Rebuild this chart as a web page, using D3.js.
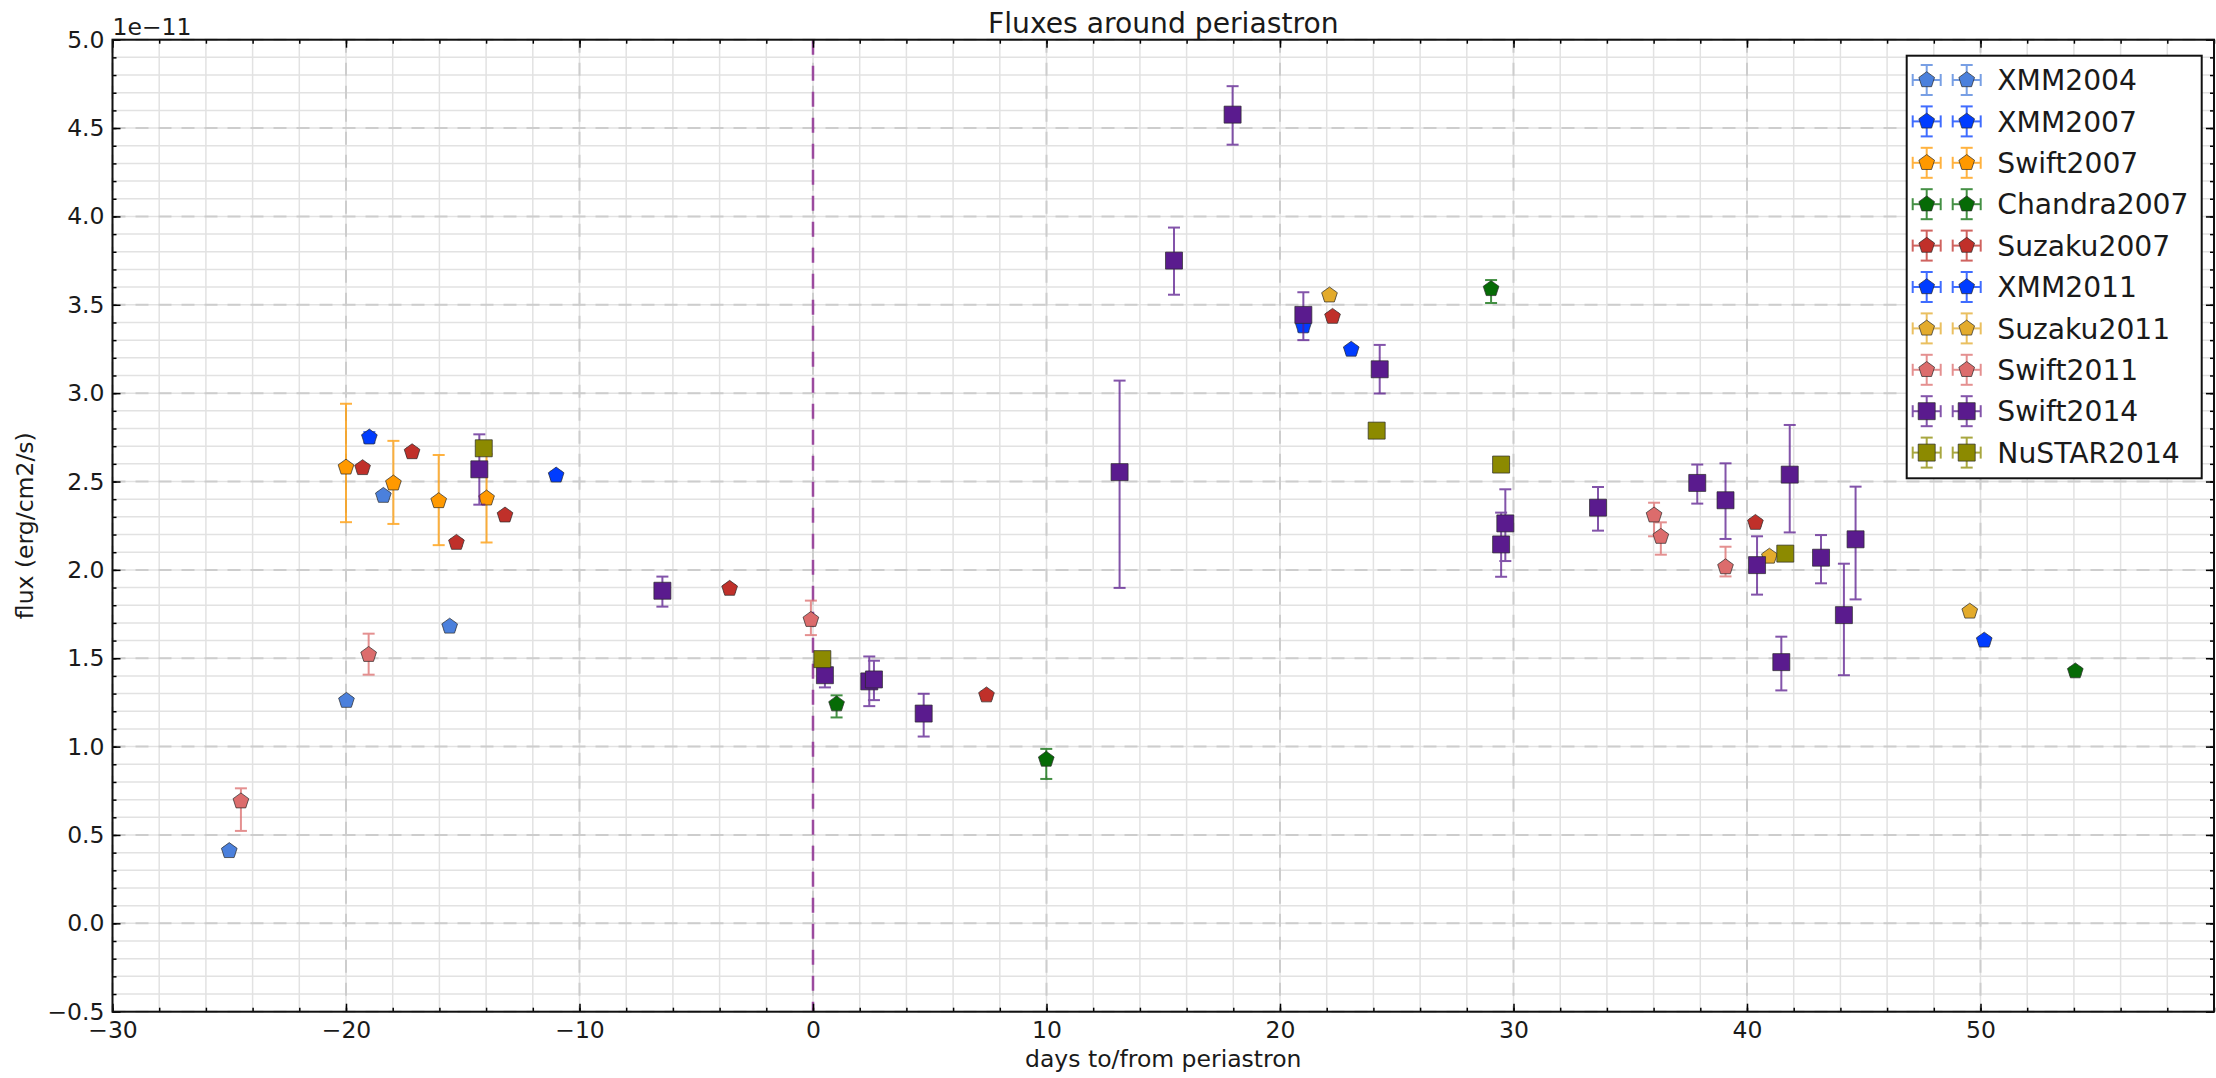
<!DOCTYPE html>
<html>
<head>
<meta charset="utf-8">
<title>Fluxes around periastron</title>
<script src="https://cdn.jsdelivr.net/npm/d3@7"></script>
<style>
  html, body { margin: 0; padding: 0; background: #fff; }
  svg { display: block; font-family: "DejaVu Sans", sans-serif; }
</style>
</head>
<body>
<svg id="chart" width="2216" height="1078"></svg>
<script>
// Each point: [days to/from periastron, flux in 1e-11 erg/cm2/s, lower error, upper error]
const XMM2004 = [[-25.0, 0.41, 0.02, 0.02], [-19.98, 1.26, 0.02, 0.02], [-18.4, 2.42, 0.02, 0.02], [-15.56, 1.68, 0.02, 0.02]];
const XMM2007 = [[-19.0, 2.75, 0.03, 0.03]];
const Swift2007 = [[-20.0, 2.58, 0.31, 0.36], [-17.97, 2.49, 0.23, 0.24], [-16.03, 2.39, 0.25, 0.26], [-13.98, 2.405, 0.25, 0.25]];
const Chandra2007 = [[1.01, 1.24, 0.075, 0.05], [9.99, 0.927, 0.11, 0.06], [29.04, 3.59, 0.08, 0.05], [54.06, 1.427, 0.02, 0.02]];
const Suzaku2007 = [[-19.29, 2.577, 0.02, 0.02], [-17.17, 2.667, 0.02, 0.02], [-15.27, 2.154, 0.02, 0.02], [-13.19, 2.309, 0.02, 0.02],
                    [-3.57, 1.894, 0.02, 0.02], [7.43, 1.291, 0.02, 0.02], [22.25, 3.433, 0.02, 0.02], [40.36, 2.267, 0.02, 0.02]];
const XMM2011 = [[-11.0, 2.535, 0.02, 0.02], [21.0, 3.379, 0.03, 0.03], [23.05, 3.247, 0.02, 0.02], [50.16, 1.601, 0.02, 0.02]];
const Suzaku2011 = [[22.12, 3.554, 0.02, 0.02], [40.96, 2.076, 0.02, 0.02], [49.54, 1.765, 0.02, 0.02]];
const Swift2011 = [[-24.5, 0.691, 0.168, 0.073], [-19.03, 1.52, 0.113, 0.119], [-0.09, 1.718, 0.087, 0.108],
                   [36.02, 2.309, 0.119, 0.071], [36.31, 2.188, 0.102, 0.081], [39.08, 2.016, 0.053, 0.115]];
const Swift2014 = [[-14.29, 2.569, 0.2, 0.198], [-6.45, 1.882, 0.09, 0.08], [0.51, 1.404, 0.069, 0.07], [2.41, 1.369, 0.14, 0.141],
                   [2.61, 1.38, 0.117, 0.106], [4.74, 1.187, 0.13, 0.112], [13.13, 2.553, 0.655, 0.518], [15.46, 3.75, 0.193, 0.187],
                   [17.97, 4.576, 0.17, 0.161], [21.0, 3.443, 0.143, 0.128], [24.27, 3.135, 0.137, 0.138], [29.47, 2.144, 0.183, 0.18],
                   [29.65, 2.263, 0.213, 0.193], [33.62, 2.352, 0.13, 0.117], [37.87, 2.492, 0.117, 0.104], [39.08, 2.394, 0.219, 0.209],
                   [40.43, 2.027, 0.167, 0.163], [41.47, 1.478, 0.16, 0.144], [41.83, 2.539, 0.327, 0.281], [43.17, 2.069, 0.145, 0.128],
                   [44.15, 1.744, 0.34, 0.291], [44.65, 2.173, 0.34, 0.298]];
const NuSTAR2014 = [[-14.10, 2.688, 0.02, 0.02], [0.40, 1.495, 0.02, 0.02], [24.14, 2.788, 0.02, 0.02], [29.47, 2.596, 0.02, 0.02], [41.64, 2.092, 0.02, 0.02]];

const seriesNames = ["XMM2004", "XMM2007", "Swift2007", "Chandra2007", "Suzaku2007", "XMM2011", "Suzaku2011", "Swift2011", "Swift2014", "NuSTAR2014"];
const seriesData = [XMM2004, XMM2007, Swift2007, Chandra2007, Suzaku2007, XMM2011, Suzaku2011, Swift2011, Swift2014, NuSTAR2014];

const xTickValues = [-30, -20, -10, 0, 10, 20, 30, 40, 50];
const yTickValues = [-0.5, 0.0, 0.5, 1.0, 1.5, 2.0, 2.5, 3.0, 3.5, 4.0, 4.5, 5.0];
const offsetLabel = "1e\u221211";
const periastronDay = 0;

// ---- styling ----
const colors = ["#4b80dc", "#003cff", "#ff9900", "#066b06", "#c0302a", "#003cff", "#e3ab2c", "#dc6c6c", "#5a1b8e", "#8c8a00"];
const shapes = ["p", "p", "p", "p", "p", "p", "p", "p", "s", "s"];

const W = 2216, H = 1078;
const plot = { left: 112.5, right: 2214, top: 39.7, bottom: 1011.7 };
const baseFont = 23.5, largeFont = 28.2;

const svg = d3.select("#chart");

const x = d3.scaleLinear().domain([-30, 60]).range([plot.left, plot.right]);
const y = d3.scaleLinear().domain([-0.5, 5.0]).range([plot.bottom, plot.top]);

const xMinor = d3.range(-15, 31).map(i => i * 2);
const yMinor = d3.range(-5, 51).map(i => i / 10);

// pentagon marker, vertex up
const symbolPentagon = {
  draw(ctx, size) {
    const r = Math.sqrt(size / 2.3776);
    for (let i = 0; i < 5; i++) {
      const a = -Math.PI / 2 + i * 2 * Math.PI / 5;
      const px = r * Math.cos(a), py = r * Math.sin(a);
      if (i === 0) ctx.moveTo(px, py); else ctx.lineTo(px, py);
    }
    ctx.closePath();
  }
};
const markerPath = shape => shape === "s"
  ? d3.symbol().type(d3.symbolSquare).size(289)()
  : d3.symbol().type(symbolPentagon).size(162)();

// ---- grid ----
const grid = svg.append("g");
grid.selectAll(".hminor").data(yMinor).join("line")
  .attr("x1", plot.left).attr("x2", plot.right)
  .attr("y1", d => y(d)).attr("y2", d => y(d))
  .attr("stroke", "#e2e2e2").attr("stroke-width", 1.5);
grid.selectAll(".vminor").data(xMinor).join("line")
  .attr("y1", plot.top).attr("y2", plot.bottom)
  .attr("x1", d => x(d)).attr("x2", d => x(d))
  .attr("stroke", "#e2e2e2").attr("stroke-width", 1.5);
grid.selectAll(".hmajor").data(yTickValues).join("line")
  .attr("x1", plot.left).attr("x2", plot.right)
  .attr("y1", d => y(d)).attr("y2", d => y(d))
  .attr("stroke", "#cdcdcd").attr("stroke-width", 2).attr("stroke-dasharray", "13,10");
grid.selectAll(".vmajor").data(xTickValues).join("line")
  .attr("y1", plot.top).attr("y2", plot.bottom)
  .attr("x1", d => x(d)).attr("x2", d => x(d))
  .attr("stroke", "#cdcdcd").attr("stroke-width", 2).attr("stroke-dasharray", "13,10");

// periastron marker
svg.append("line")
  .attr("x1", x(periastronDay)).attr("x2", x(periastronDay))
  .attr("y1", plot.top).attr("y2", plot.bottom)
  .attr("stroke", "#9b4a9e").attr("stroke-width", 2.5).attr("stroke-dasharray", "15,11");

// ---- data ----
const capHalf = 6;
seriesData.forEach((data, si) => {
  const g = svg.append("g");
  const col = colors[si];
  const eb = g.append("g").attr("stroke", col).attr("stroke-width", 2).attr("opacity", 0.75);
  data.forEach(([dx, fy, lo, hi]) => {
    const cx = x(dx), yl = y(fy - lo), yh = y(fy + hi);
    eb.append("line").attr("x1", cx).attr("x2", cx).attr("y1", yl).attr("y2", yh);
    eb.append("line").attr("x1", cx - capHalf).attr("x2", cx + capHalf).attr("y1", yl).attr("y2", yl);
    eb.append("line").attr("x1", cx - capHalf).attr("x2", cx + capHalf).attr("y1", yh).attr("y2", yh);
  });
  g.selectAll("path.mark").data(data).join("path")
    .attr("class", "mark")
    .attr("d", markerPath(shapes[si]))
    .attr("transform", d => `translate(${x(d[0])},${y(d[1])})`)
    .attr("fill", col)
    .attr("stroke", "#2a2a2a").attr("stroke-opacity", 0.7).attr("stroke-width", 1);
});

// ---- axes (inward ticks on all four sides) ----
const fmtX = d3.format("d");
const fmtY = d3.format(".1f");
function styleAxis(g) {
  g.select(".domain").remove();
  g.selectAll("line").attr("stroke", "#000").attr("stroke-width", 1.5);
  g.selectAll("text").attr("font-size", baseFont).attr("fill", "#1a1a1a").attr("font-family", "DejaVu Sans, sans-serif");
}
svg.append("g").attr("transform", `translate(0,${plot.bottom})`)
  .call(d3.axisBottom(x).tickValues(xTickValues).tickSize(-8).tickPadding(10).tickFormat(fmtX)).call(styleAxis);
svg.append("g").attr("transform", `translate(0,${plot.bottom})`)
  .call(d3.axisBottom(x).tickValues(xMinor).tickSize(-4).tickFormat("")).call(styleAxis);
svg.append("g").attr("transform", `translate(0,${plot.top})`)
  .call(d3.axisTop(x).tickValues(xTickValues).tickSize(-8).tickFormat("")).call(styleAxis);
svg.append("g").attr("transform", `translate(0,${plot.top})`)
  .call(d3.axisTop(x).tickValues(xMinor).tickSize(-4).tickFormat("")).call(styleAxis);
svg.append("g").attr("transform", `translate(${plot.left},0)`)
  .call(d3.axisLeft(y).tickValues(yTickValues).tickSize(-8).tickPadding(8).tickFormat(fmtY)).call(styleAxis);
svg.append("g").attr("transform", `translate(${plot.left},0)`)
  .call(d3.axisLeft(y).tickValues(yMinor).tickSize(-4).tickFormat("")).call(styleAxis);
svg.append("g").attr("transform", `translate(${plot.right},0)`)
  .call(d3.axisRight(y).tickValues(yTickValues).tickSize(-8).tickFormat("")).call(styleAxis);
svg.append("g").attr("transform", `translate(${plot.right},0)`)
  .call(d3.axisRight(y).tickValues(yMinor).tickSize(-4).tickFormat("")).call(styleAxis);

// frame
svg.append("rect")
  .attr("x", plot.left).attr("y", plot.top)
  .attr("width", plot.right - plot.left).attr("height", plot.bottom - plot.top)
  .attr("fill", "none").attr("stroke", "#111").attr("stroke-width", 2);

// ---- text ----
svg.append("text").attr("x", (plot.left + plot.right) / 2).attr("y", 33)
  .attr("text-anchor", "middle").attr("font-size", largeFont).attr("fill", "#1a1a1a")
  .text("Fluxes around periastron");
svg.append("text").attr("x", (plot.left + plot.right) / 2).attr("y", 1067)
  .attr("text-anchor", "middle").attr("font-size", baseFont).attr("fill", "#1a1a1a")
  .text("days to/from periastron");
svg.append("text").attr("transform", `translate(33,${(plot.top + plot.bottom) / 2}) rotate(-90)`)
  .attr("text-anchor", "middle").attr("font-size", baseFont).attr("fill", "#1a1a1a")
  .text("flux (erg/cm2/s)");
svg.append("text").attr("x", plot.left).attr("y", 35)
  .attr("font-size", baseFont).attr("fill", "#1a1a1a")
  .text(offsetLabel);

// ---- legend ----
const legend = { left: 1906.7, top: 55.7, right: 2201.7, bottom: 478.3, firstRow: 80, rowStep: 41.4 };
const lg = svg.append("g");
lg.append("rect").attr("x", legend.left).attr("y", legend.top)
  .attr("width", legend.right - legend.left).attr("height", legend.bottom - legend.top)
  .attr("fill", "#fff").attr("stroke", "#111").attr("stroke-width", 2);
seriesNames.forEach((name, i) => {
  const cy = legend.firstRow + i * legend.rowStep;
  const col = colors[i];
  [1926.7, 1966.7].forEach(cx => {
    const e = lg.append("g").attr("stroke", col).attr("stroke-width", 2).attr("opacity", 0.75);
    e.append("line").attr("x1", cx - 14).attr("x2", cx + 14).attr("y1", cy).attr("y2", cy);
    e.append("line").attr("x1", cx).attr("x2", cx).attr("y1", cy - 15).attr("y2", cy + 15);
    e.append("line").attr("x1", cx - 14).attr("x2", cx - 14).attr("y1", cy - 6).attr("y2", cy + 6);
    e.append("line").attr("x1", cx + 14).attr("x2", cx + 14).attr("y1", cy - 6).attr("y2", cy + 6);
    e.append("line").attr("x1", cx - 6).attr("x2", cx + 6).attr("y1", cy - 15).attr("y2", cy - 15);
    e.append("line").attr("x1", cx - 6).attr("x2", cx + 6).attr("y1", cy + 15).attr("y2", cy + 15);
    lg.append("path").attr("d", markerPath(shapes[i]))
      .attr("transform", `translate(${cx},${cy})`)
      .attr("fill", col).attr("stroke", "#2a2a2a").attr("stroke-opacity", 0.7).attr("stroke-width", 1);
  });
  lg.append("text").attr("x", 1997.3).attr("y", cy).attr("dy", "0.36em")
    .attr("font-size", largeFont).attr("fill", "#1a1a1a").text(name);
});
</script>
</body>
</html>
